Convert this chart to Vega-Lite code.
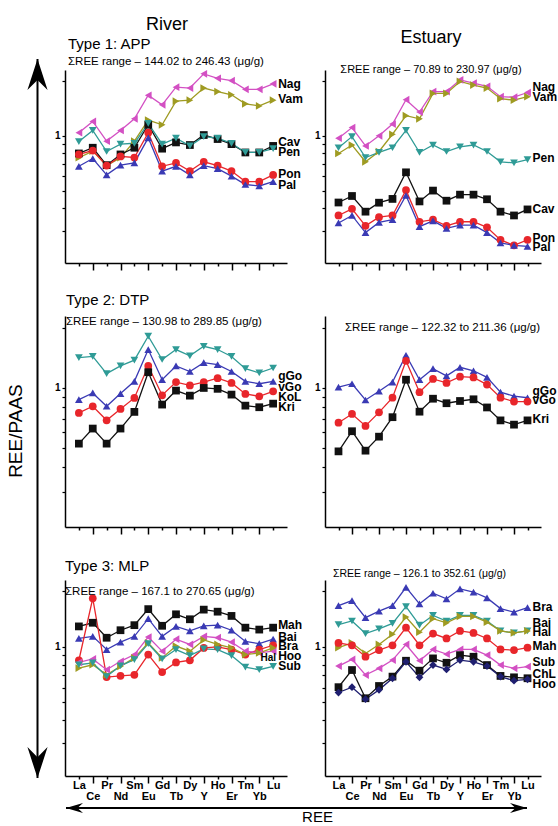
{
"$schema": "https://vega.github.io/schema/vega-lite/v6.json",
"padding": {"left": 7, "top": 16, "right": 0, "bottom": 0},
"background": "white",
"config": {
  "view": {"stroke": null},
  "font": "Liberation Sans",
  "title": {"font": "Liberation Sans", "fontWeight": "normal", "color": "black", "subtitleFont": "Liberation Sans", "subtitleColor": "black", "subtitleFontWeight": "normal"},
  "axis": {"domainColor": "black", "tickColor": "black", "grid": false, "labelColor": "black"},
  "text": {"font": "Liberation Sans", "color": "black"}
},
"title": {"text": "River", "fontSize": 18, "anchor": "start", "frame": "group", "dx": 81, "offset": -5},
"datasets": {
"r1": [
{"e":"La","s":"Nag","v":1.04},{"e":"Ce","s":"Nag","v":1.2},{"e":"Pr","s":"Nag","v":0.935},{"e":"Nd","s":"Nag","v":1.07},{"e":"Sm","s":"Nag","v":1.24},{"e":"Eu","s":"Nag","v":1.67},{"e":"Gd","s":"Nag","v":1.48},{"e":"Tb","s":"Nag","v":1.85},{"e":"Dy","s":"Nag","v":1.83},{"e":"Y","s":"Nag","v":2.19},{"e":"Ho","s":"Nag","v":2.07},{"e":"Er","s":"Nag","v":2.01},{"e":"Tm","s":"Nag","v":1.8},{"e":"Yb","s":"Nag","v":1.8},{"e":"Lu","s":"Nag","v":1.93},
{"e":"La","s":"Vam","v":0.758},{"e":"Ce","s":"Vam","v":0.824},{"e":"Pr","s":"Vam","v":0.686},{"e":"Nd","s":"Vam","v":0.758},{"e":"Sm","s":"Vam","v":0.935},{"e":"Eu","s":"Vam","v":1.22},{"e":"Gd","s":"Vam","v":1.15},{"e":"Tb","s":"Vam","v":1.55},{"e":"Dy","s":"Vam","v":1.57},{"e":"Y","s":"Vam","v":1.83},{"e":"Ho","s":"Vam","v":1.75},{"e":"Er","s":"Vam","v":1.68},{"e":"Tm","s":"Vam","v":1.5},{"e":"Yb","s":"Vam","v":1.46},{"e":"Lu","s":"Vam","v":1.57},
{"e":"La","s":"Cav","v":0.8},{"e":"Ce","s":"Cav","v":0.86},{"e":"Pr","s":"Cav","v":0.69},{"e":"Nd","s":"Cav","v":0.79},{"e":"Sm","s":"Cav","v":0.86},{"e":"Eu","s":"Cav","v":1.15},{"e":"Gd","s":"Cav","v":0.85},{"e":"Tb","s":"Cav","v":0.92},{"e":"Dy","s":"Cav","v":0.89},{"e":"Y","s":"Cav","v":1.01},{"e":"Ho","s":"Cav","v":0.96},{"e":"Er","s":"Cav","v":0.9},{"e":"Tm","s":"Cav","v":0.81},{"e":"Yb","s":"Cav","v":0.81},{"e":"Lu","s":"Cav","v":0.88},
{"e":"La","s":"Pen","v":0.93},{"e":"Ce","s":"Pen","v":1.07},{"e":"Pr","s":"Pen","v":0.82},{"e":"Nd","s":"Pen","v":0.9},{"e":"Sm","s":"Pen","v":0.91},{"e":"Eu","s":"Pen","v":1.17},{"e":"Gd","s":"Pen","v":0.9},{"e":"Tb","s":"Pen","v":0.97},{"e":"Dy","s":"Pen","v":0.88},{"e":"Y","s":"Pen","v":0.99},{"e":"Ho","s":"Pen","v":0.97},{"e":"Er","s":"Pen","v":0.91},{"e":"Tm","s":"Pen","v":0.81},{"e":"Yb","s":"Pen","v":0.81},{"e":"Lu","s":"Pen","v":0.85},
{"e":"La","s":"Pon","v":0.79},{"e":"Ce","s":"Pon","v":0.83},{"e":"Pr","s":"Pon","v":0.686},{"e":"Nd","s":"Pon","v":0.77},{"e":"Sm","s":"Pon","v":0.76},{"e":"Eu","s":"Pon","v":1.04},{"e":"Gd","s":"Pon","v":0.68},{"e":"Tb","s":"Pon","v":0.71},{"e":"Dy","s":"Pon","v":0.64},{"e":"Y","s":"Pon","v":0.72},{"e":"Ho","s":"Pon","v":0.686},{"e":"Er","s":"Pon","v":0.64},{"e":"Tm","s":"Pon","v":0.56},{"e":"Yb","s":"Pon","v":0.56},{"e":"Lu","s":"Pon","v":0.61},
{"e":"La","s":"Pal","v":0.68},{"e":"Ce","s":"Pal","v":0.75},{"e":"Pr","s":"Pal","v":0.61},{"e":"Nd","s":"Pal","v":0.69},{"e":"Sm","s":"Pal","v":0.71},{"e":"Eu","s":"Pal","v":0.975},{"e":"Gd","s":"Pal","v":0.64},{"e":"Tb","s":"Pal","v":0.68},{"e":"Dy","s":"Pal","v":0.61},{"e":"Y","s":"Pal","v":0.686},{"e":"Ho","s":"Pal","v":0.66},{"e":"Er","s":"Pal","v":0.6},{"e":"Tm","s":"Pal","v":0.54},{"e":"Yb","s":"Pal","v":0.53},{"e":"Lu","s":"Pal","v":0.56}
],
"r1L": [{"s":"Nag","v":1.93},{"s":"Vam","v":1.59},{"s":"Cav","v":0.92},{"s":"Pen","v":0.81},{"s":"Pon","v":0.615},{"s":"Pal","v":0.538}],
"e1": [
{"e":"La","s":"Nag","v":0.97},{"e":"Ce","s":"Nag","v":1.11},{"e":"Pr","s":"Nag","v":0.88},{"e":"Nd","s":"Nag","v":1.0},{"e":"Sm","s":"Nag","v":1.16},{"e":"Eu","s":"Nag","v":1.58},{"e":"Gd","s":"Nag","v":1.35},{"e":"Tb","s":"Nag","v":1.75},{"e":"Dy","s":"Nag","v":1.75},{"e":"Y","s":"Nag","v":2.03},{"e":"Ho","s":"Nag","v":1.95},{"e":"Er","s":"Nag","v":1.87},{"e":"Tm","s":"Nag","v":1.64},{"e":"Yb","s":"Nag","v":1.63},{"e":"Lu","s":"Nag","v":1.73},
{"e":"La","s":"Vam","v":0.8},{"e":"Ce","s":"Vam","v":0.89},{"e":"Pr","s":"Vam","v":0.72},{"e":"Nd","s":"Vam","v":0.82},{"e":"Sm","s":"Vam","v":1.02},{"e":"Eu","s":"Vam","v":1.29},{"e":"Gd","s":"Vam","v":1.24},{"e":"Tb","s":"Vam","v":1.71},{"e":"Dy","s":"Vam","v":1.71},{"e":"Y","s":"Vam","v":1.99},{"e":"Ho","s":"Vam","v":1.9},{"e":"Er","s":"Vam","v":1.83},{"e":"Tm","s":"Vam","v":1.6},{"e":"Yb","s":"Vam","v":1.57},{"e":"Lu","s":"Vam","v":1.64},
{"e":"La","s":"Pen","v":0.86},{"e":"Ce","s":"Pen","v":0.99},{"e":"Pr","s":"Pen","v":0.76},{"e":"Nd","s":"Pen","v":0.81},{"e":"Sm","s":"Pen","v":0.86},{"e":"Eu","s":"Pen","v":1.07},{"e":"Gd","s":"Pen","v":0.81},{"e":"Tb","s":"Pen","v":0.89},{"e":"Dy","s":"Pen","v":0.82},{"e":"Y","s":"Pen","v":0.87},{"e":"Ho","s":"Pen","v":0.89},{"e":"Er","s":"Pen","v":0.82},{"e":"Tm","s":"Pen","v":0.72},{"e":"Yb","s":"Pen","v":0.71},{"e":"Lu","s":"Pen","v":0.74},
{"e":"La","s":"Cav","v":0.43},{"e":"Ce","s":"Cav","v":0.467},{"e":"Pr","s":"Cav","v":0.383},{"e":"Nd","s":"Cav","v":0.429},{"e":"Sm","s":"Cav","v":0.45},{"e":"Eu","s":"Cav","v":0.63},{"e":"Gd","s":"Cav","v":0.436},{"e":"Tb","s":"Cav","v":0.5},{"e":"Dy","s":"Cav","v":0.44},{"e":"Y","s":"Cav","v":0.475},{"e":"Ho","s":"Cav","v":0.475},{"e":"Er","s":"Cav","v":0.448},{"e":"Tm","s":"Cav","v":0.383},{"e":"Yb","s":"Cav","v":0.365},{"e":"Lu","s":"Cav","v":0.394},
{"e":"La","s":"Pon","v":0.365},{"e":"Ce","s":"Pon","v":0.397},{"e":"Pr","s":"Pon","v":0.32},{"e":"Nd","s":"Pon","v":0.357},{"e":"Sm","s":"Pon","v":0.365},{"e":"Eu","s":"Pon","v":0.503},{"e":"Gd","s":"Pon","v":0.337},{"e":"Tb","s":"Pon","v":0.346},{"e":"Dy","s":"Pon","v":0.32},{"e":"Y","s":"Pon","v":0.337},{"e":"Ho","s":"Pon","v":0.337},{"e":"Er","s":"Pon","v":0.314},{"e":"Tm","s":"Pon","v":0.268},{"e":"Yb","s":"Pon","v":0.25},{"e":"Lu","s":"Pon","v":0.268},
{"e":"La","s":"Pal","v":0.332},{"e":"Ce","s":"Pal","v":0.365},{"e":"Pr","s":"Pal","v":0.294},{"e":"Nd","s":"Pal","v":0.334},{"e":"Sm","s":"Pal","v":0.346},{"e":"Eu","s":"Pal","v":0.47},{"e":"Gd","s":"Pal","v":0.317},{"e":"Tb","s":"Pal","v":0.341},{"e":"Dy","s":"Pal","v":0.31},{"e":"Y","s":"Pal","v":0.323},{"e":"Ho","s":"Pal","v":0.323},{"e":"Er","s":"Pal","v":0.294},{"e":"Tm","s":"Pal","v":0.258},{"e":"Yb","s":"Pal","v":0.25},{"e":"Lu","s":"Pal","v":0.247}
],
"e1L": [{"s":"Nag","v":1.85},{"s":"Vam","v":1.63},{"s":"Pen","v":0.757},{"s":"Cav","v":0.394},{"s":"Pon","v":0.274},{"s":"Pal","v":0.245}],
"r2": [
{"e":"La","s":"gGo","v":1.42},{"e":"Ce","s":"gGo","v":1.44},{"e":"Pr","s":"gGo","v":1.18},{"e":"Nd","s":"gGo","v":1.29},{"e":"Sm","s":"gGo","v":1.38},{"e":"Eu","s":"gGo","v":1.82},{"e":"Gd","s":"gGo","v":1.39},{"e":"Tb","s":"gGo","v":1.56},{"e":"Dy","s":"gGo","v":1.45},{"e":"Y","s":"gGo","v":1.62},{"e":"Ho","s":"gGo","v":1.56},{"e":"Er","s":"gGo","v":1.44},{"e":"Tm","s":"gGo","v":1.25},{"e":"Yb","s":"gGo","v":1.19},{"e":"Lu","s":"gGo","v":1.26},
{"e":"La","s":"vGo","v":0.874},{"e":"Ce","s":"vGo","v":0.944},{"e":"Pr","s":"vGo","v":0.809},{"e":"Nd","s":"vGo","v":0.937},{"e":"Sm","s":"vGo","v":1.08},{"e":"Eu","s":"vGo","v":1.56},{"e":"Gd","s":"vGo","v":1.1},{"e":"Tb","s":"vGo","v":1.29},{"e":"Dy","s":"vGo","v":1.21},{"e":"Y","s":"vGo","v":1.34},{"e":"Ho","s":"vGo","v":1.31},{"e":"Er","s":"vGo","v":1.21},{"e":"Tm","s":"vGo","v":1.08},{"e":"Yb","s":"vGo","v":1.05},{"e":"Lu","s":"vGo","v":1.08},
{"e":"La","s":"KoL","v":0.749},{"e":"Ce","s":"KoL","v":0.809},{"e":"Pr","s":"KoL","v":0.688},{"e":"Nd","s":"KoL","v":0.784},{"e":"Sm","s":"KoL","v":0.891},{"e":"Eu","s":"KoL","v":1.29},{"e":"Gd","s":"KoL","v":0.919},{"e":"Tb","s":"KoL","v":1.07},{"e":"Dy","s":"KoL","v":1.03},{"e":"Y","s":"KoL","v":1.07},{"e":"Ho","s":"KoL","v":1.12},{"e":"Er","s":"KoL","v":1.06},{"e":"Tm","s":"KoL","v":0.933},{"e":"Yb","s":"KoL","v":0.908},{"e":"Lu","s":"KoL","v":0.962},
{"e":"La","s":"Kri","v":0.525},{"e":"Ce","s":"Kri","v":0.625},{"e":"Pr","s":"Kri","v":0.525},{"e":"Nd","s":"Kri","v":0.625},{"e":"Sm","s":"Kri","v":0.758},{"e":"Eu","s":"Kri","v":1.2},{"e":"Gd","s":"Kri","v":0.825},{"e":"Tb","s":"Kri","v":0.97},{"e":"Dy","s":"Kri","v":0.915},{"e":"Y","s":"Kri","v":1.0},{"e":"Ho","s":"Kri","v":0.99},{"e":"Er","s":"Kri","v":0.926},{"e":"Tm","s":"Kri","v":0.815},{"e":"Yb","s":"Kri","v":0.8},{"e":"Lu","s":"Kri","v":0.834}
],
"r2L": [{"s":"gGo","v":1.149},{"s":"vGo","v":1.012},{"s":"KoL","v":0.901},{"s":"Kri","v":0.803}],
"e2": [
{"e":"La","s":"gGo","v":1.01},{"e":"Ce","s":"gGo","v":1.05},{"e":"Pr","s":"gGo","v":0.87},{"e":"Nd","s":"gGo","v":0.963},{"e":"Sm","s":"gGo","v":1.07},{"e":"Eu","s":"gGo","v":1.46},{"e":"Gd","s":"gGo","v":1.1},{"e":"Tb","s":"gGo","v":1.25},{"e":"Dy","s":"gGo","v":1.15},{"e":"Y","s":"gGo","v":1.27},{"e":"Ho","s":"gGo","v":1.22},{"e":"Er","s":"gGo","v":1.13},{"e":"Tm","s":"gGo","v":0.952},{"e":"Yb","s":"gGo","v":0.91},{"e":"Lu","s":"gGo","v":0.893},
{"e":"La","s":"vGo","v":0.669},{"e":"Ce","s":"vGo","v":0.74},{"e":"Pr","s":"vGo","v":0.644},{"e":"Nd","s":"vGo","v":0.754},{"e":"Sm","s":"vGo","v":0.893},{"e":"Eu","s":"vGo","v":1.37},{"e":"Gd","s":"vGo","v":0.952},{"e":"Tb","s":"vGo","v":1.11},{"e":"Dy","s":"vGo","v":1.06},{"e":"Y","s":"vGo","v":1.14},{"e":"Ho","s":"vGo","v":1.13},{"e":"Er","s":"vGo","v":1.04},{"e":"Tm","s":"vGo","v":0.893},{"e":"Yb","s":"vGo","v":0.854},{"e":"Lu","s":"vGo","v":0.854},
{"e":"La","s":"Kri","v":0.48},{"e":"Ce","s":"Kri","v":0.606},{"e":"Pr","s":"Kri","v":0.484},{"e":"Nd","s":"Kri","v":0.569},{"e":"Sm","s":"Kri","v":0.713},{"e":"Eu","s":"Kri","v":1.1},{"e":"Gd","s":"Kri","v":0.76},{"e":"Tb","s":"Kri","v":0.883},{"e":"Dy","s":"Kri","v":0.838},{"e":"Y","s":"Kri","v":0.86},{"e":"Ho","s":"Kri","v":0.877},{"e":"Er","s":"Kri","v":0.798},{"e":"Tm","s":"Kri","v":0.687},{"e":"Yb","s":"Kri","v":0.654},{"e":"Lu","s":"Kri","v":0.687}
],
"e2L": [{"s":"gGo","v":0.96},{"s":"vGo","v":0.872},{"s":"Kri","v":0.697}],
"r3": [
{"e":"La","s":"Mah","v":1.29},{"e":"Ce","s":"Mah","v":1.35},{"e":"Pr","s":"Mah","v":1.12},{"e":"Nd","s":"Mah","v":1.23},{"e":"Sm","s":"Mah","v":1.31},{"e":"Eu","s":"Mah","v":1.6},{"e":"Gd","s":"Mah","v":1.3},{"e":"Tb","s":"Mah","v":1.5},{"e":"Dy","s":"Mah","v":1.41},{"e":"Y","s":"Mah","v":1.59},{"e":"Ho","s":"Mah","v":1.55},{"e":"Er","s":"Mah","v":1.47},{"e":"Tm","s":"Mah","v":1.27},{"e":"Yb","s":"Mah","v":1.24},{"e":"Lu","s":"Mah","v":1.27},
{"e":"La","s":"Bai","v":1.11},{"e":"Ce","s":"Bai","v":1.14},{"e":"Pr","s":"Bai","v":0.967},{"e":"Nd","s":"Bai","v":1.06},{"e":"Sm","s":"Bai","v":1.14},{"e":"Eu","s":"Bai","v":1.42},{"e":"Gd","s":"Bai","v":1.14},{"e":"Tb","s":"Bai","v":1.29},{"e":"Dy","s":"Bai","v":1.22},{"e":"Y","s":"Bai","v":1.3},{"e":"Ho","s":"Bai","v":1.31},{"e":"Er","s":"Bai","v":1.23},{"e":"Tm","s":"Bai","v":1.07},{"e":"Yb","s":"Bai","v":1.04},{"e":"Lu","s":"Bai","v":1.1},
{"e":"La","s":"Bra","v":0.846},{"e":"Ce","s":"Bra","v":1.83},{"e":"Pr","s":"Bra","v":0.686},{"e":"Nd","s":"Bra","v":0.697},{"e":"Sm","s":"Bra","v":0.706},{"e":"Eu","s":"Bra","v":0.908},{"e":"Gd","s":"Bra","v":0.73},{"e":"Tb","s":"Bra","v":0.824},{"e":"Dy","s":"Bra","v":0.846},{"e":"Y","s":"Bra","v":0.987},{"e":"Ho","s":"Bra","v":1.0},{"e":"Er","s":"Bra","v":0.967},{"e":"Tm","s":"Bra","v":0.908},{"e":"Yb","s":"Bra","v":0.967},{"e":"Lu","s":"Bra","v":1.02},
{"e":"La","s":"Hoo","v":0.824},{"e":"Ce","s":"Hoo","v":0.86},{"e":"Pr","s":"Hoo","v":0.752},{"e":"Nd","s":"Hoo","v":0.835},{"e":"Sm","s":"Hoo","v":0.908},{"e":"Eu","s":"Hoo","v":1.13},{"e":"Gd","s":"Hoo","v":0.947},{"e":"Tb","s":"Hoo","v":1.1},{"e":"Dy","s":"Hoo","v":1.03},{"e":"Y","s":"Hoo","v":1.14},{"e":"Ho","s":"Hoo","v":1.12},{"e":"Er","s":"Hoo","v":1.06},{"e":"Tm","s":"Hoo","v":0.947},{"e":"Yb","s":"Hoo","v":0.927},{"e":"Lu","s":"Hoo","v":0.947},
{"e":"La","s":"Hal","v":0.768},{"e":"Ce","s":"Hal","v":0.8},{"e":"Pr","s":"Hal","v":0.706},{"e":"Nd","s":"Hal","v":0.784},{"e":"Sm","s":"Hal","v":0.871},{"e":"Eu","s":"Hal","v":1.05},{"e":"Gd","s":"Hal","v":0.871},{"e":"Tb","s":"Hal","v":1.01},{"e":"Dy","s":"Hal","v":0.947},{"e":"Y","s":"Hal","v":1.09},{"e":"Ho","s":"Hal","v":1.03},{"e":"Er","s":"Hal","v":0.987},{"e":"Tm","s":"Hal","v":0.908},{"e":"Yb","s":"Hal","v":0.927},{"e":"Lu","s":"Hal","v":0.987},
{"e":"La","s":"Sub","v":0.8},{"e":"Ce","s":"Sub","v":0.818},{"e":"Pr","s":"Sub","v":0.691},{"e":"Nd","s":"Sub","v":0.79},{"e":"Sm","s":"Sub","v":0.853},{"e":"Eu","s":"Sub","v":1.04},{"e":"Gd","s":"Sub","v":0.86},{"e":"Tb","s":"Sub","v":0.967},{"e":"Dy","s":"Sub","v":0.897},{"e":"Y","s":"Sub","v":0.975},{"e":"Ho","s":"Sub","v":0.967},{"e":"Er","s":"Sub","v":0.897},{"e":"Tm","s":"Sub","v":0.777},{"e":"Yb","s":"Sub","v":0.752},{"e":"Lu","s":"Sub","v":0.784}
],
"r3L": [{"s":"Mah","v":1.31},{"s":"Bai","v":1.134},{"s":"Bra","v":1.013},{"s":"Hoo","v":0.889},{"s":"Sub","v":0.79}],
"r3H": [{"s":"Hal","v":0.87}],
"e3": [
{"e":"La","s":"Bra","v":1.67},{"e":"Ce","s":"Bra","v":1.78},{"e":"Pr","s":"Bra","v":1.44},{"e":"Nd","s":"Bra","v":1.56},{"e":"Sm","s":"Bra","v":1.67},{"e":"Eu","s":"Bra","v":2.1},{"e":"Gd","s":"Bra","v":1.71},{"e":"Tb","s":"Bra","v":1.95},{"e":"Dy","s":"Bra","v":1.82},{"e":"Y","s":"Bra","v":2.06},{"e":"Ho","s":"Bra","v":1.98},{"e":"Er","s":"Bra","v":1.84},{"e":"Tm","s":"Bra","v":1.61},{"e":"Yb","s":"Bra","v":1.54},{"e":"Lu","s":"Bra","v":1.63},
{"e":"La","s":"Bai","v":1.32},{"e":"Ce","s":"Bai","v":1.38},{"e":"Pr","s":"Bai","v":1.18},{"e":"Nd","s":"Bai","v":1.25},{"e":"Sm","s":"Bai","v":1.34},{"e":"Eu","s":"Bai","v":1.65},{"e":"Gd","s":"Bai","v":1.31},{"e":"Tb","s":"Bai","v":1.48},{"e":"Dy","s":"Bai","v":1.38},{"e":"Y","s":"Bai","v":1.48},{"e":"Ho","s":"Bai","v":1.48},{"e":"Er","s":"Bai","v":1.38},{"e":"Tm","s":"Bai","v":1.22},{"e":"Yb","s":"Bai","v":1.19},{"e":"Lu","s":"Bai","v":1.22},
{"e":"La","s":"Hal","v":0.99},{"e":"Ce","s":"Hal","v":1.05},{"e":"Pr","s":"Hal","v":0.921},{"e":"Nd","s":"Hal","v":1.03},{"e":"Sm","s":"Hal","v":1.17},{"e":"Eu","s":"Hal","v":1.45},{"e":"Gd","s":"Hal","v":1.2},{"e":"Tb","s":"Hal","v":1.42},{"e":"Dy","s":"Hal","v":1.35},{"e":"Y","s":"Hal","v":1.46},{"e":"Ho","s":"Hal","v":1.46},{"e":"Er","s":"Hal","v":1.36},{"e":"Tm","s":"Hal","v":1.22},{"e":"Yb","s":"Hal","v":1.19},{"e":"Lu","s":"Hal","v":1.22},
{"e":"La","s":"Mah","v":1.05},{"e":"Ce","s":"Mah","v":1.02},{"e":"Pr","s":"Mah","v":0.884},{"e":"Nd","s":"Mah","v":0.96},{"e":"Sm","s":"Mah","v":1.02},{"e":"Eu","s":"Mah","v":1.27},{"e":"Gd","s":"Mah","v":1.02},{"e":"Tb","s":"Mah","v":1.18},{"e":"Dy","s":"Mah","v":1.11},{"e":"Y","s":"Mah","v":1.22},{"e":"Ho","s":"Mah","v":1.19},{"e":"Er","s":"Mah","v":1.11},{"e":"Tm","s":"Mah","v":0.968},{"e":"Yb","s":"Mah","v":0.96},{"e":"Lu","s":"Mah","v":0.99},
{"e":"La","s":"Sub","v":0.787},{"e":"Ce","s":"Sub","v":0.855},{"e":"Pr","s":"Sub","v":0.704},{"e":"Nd","s":"Sub","v":0.765},{"e":"Sm","s":"Sub","v":0.848},{"e":"Eu","s":"Sub","v":1.03},{"e":"Gd","s":"Sub","v":0.841},{"e":"Tb","s":"Sub","v":0.968},{"e":"Dy","s":"Sub","v":0.913},{"e":"Y","s":"Sub","v":0.968},{"e":"Ho","s":"Sub","v":0.968},{"e":"Er","s":"Sub","v":0.902},{"e":"Tm","s":"Sub","v":0.797},{"e":"Yb","s":"Sub","v":0.765},{"e":"Lu","s":"Sub","v":0.781},
{"e":"La","s":"ChL","v":0.605},{"e":"Ce","s":"ChL","v":0.749},{"e":"Pr","s":"ChL","v":0.527},{"e":"Nd","s":"ChL","v":0.614},{"e":"Sm","s":"ChL","v":0.69},{"e":"Eu","s":"ChL","v":0.841},{"e":"Gd","s":"ChL","v":0.743},{"e":"Tb","s":"ChL","v":0.866},{"e":"Dy","s":"ChL","v":0.82},{"e":"Y","s":"ChL","v":0.902},{"e":"Ho","s":"ChL","v":0.884},{"e":"Er","s":"ChL","v":0.797},{"e":"Tm","s":"ChL","v":0.696},{"e":"Yb","s":"ChL","v":0.684},{"e":"Lu","s":"ChL","v":0.676},
{"e":"La","s":"Hoo","v":0.566},{"e":"Ce","s":"Hoo","v":0.605},{"e":"Pr","s":"Hoo","v":0.521},{"e":"Nd","s":"Hoo","v":0.585},{"e":"Sm","s":"Hoo","v":0.676},{"e":"Eu","s":"Hoo","v":0.83},{"e":"Gd","s":"Hoo","v":0.684},{"e":"Tb","s":"Hoo","v":0.797},{"e":"Dy","s":"Hoo","v":0.755},{"e":"Y","s":"Hoo","v":0.848},{"e":"Ho","s":"Hoo","v":0.83},{"e":"Er","s":"Hoo","v":0.787},{"e":"Tm","s":"Hoo","v":0.69},{"e":"Yb","s":"Hoo","v":0.656},{"e":"Lu","s":"Hoo","v":0.667}
],
"e3L": [{"s":"Bra","v":1.65},{"s":"Bai","v":1.35},{"s":"Hal","v":1.2},{"s":"Mah","v":1.01},{"s":"Sub","v":0.83},{"s":"ChL","v":0.713},{"s":"Hoo","v":0.63}]
},
"columns": 2,
"spacing": {"row": 53, "column": 38},
"bounds": "flush",
"align": "each",
"resolve": {"scale": {"x": "independent", "y": "independent", "color": "independent", "shape": "independent"}},
"concat": [
{
  "width": 222, "height": 193,
  "title": {"text": "Type 1: APP", "subtitle": "ΣREE range – 144.02 to 246.43 (μg/g)", "anchor": "start", "frame": "group", "dx": 3, "offset": -10, "subtitlePadding": 4, "fontSize": 15, "subtitleFontSize": 11.5},
  "resolve": {"scale": {"x": "independent", "y": "independent"}},
  "layer": [
    {
      "data": {"name": "r1"},
      "layer": [
        {"mark": {"type": "line", "strokeWidth": 1.3},
         "encoding": {
           "x": {"field": "e", "type": "ordinal", "sort": ["La","Ce","Pr","Nd","Sm","Eu","Gd","Tb","Dy","Y","Ho","Er","Tm","Yb","Lu"], "scale": {"type": "point", "padding": 1},
                 "axis": {"title": null, "labels": false, "tickSize": {"condition": {"test": "indexof(['Ce','Nd','Eu','Tb','Y','Er','Yb'], datum.value) >= 0", "value": 7}, "value": 3}, "tickWidth": 1.5, "domainWidth": 1.5}},
           "y": {"field": "v", "type": "quantitative", "scale": {"type": "log", "domain": [0.2, 2.3], "nice": false},
                 "axis": {"title": null, "values": [0.3,0.4,0.5,0.6,0.7,0.8,0.9,1,2], "labelExpr": "datum.value == 1 ? '1' : ''", "tickSize": 3, "tickWidth": 1.2, "domainWidth": 1.5, "labelFontWeight": "bold", "labelFontSize": 10, "labelPadding": 2}},
           "color": {"field": "s", "type": "nominal", "legend": null, "scale": {"domain": ["Nag","Vam","Cav","Pen","Pon","Pal"], "range": ["#d350c3","#9f9b22","#111111","#2f9b96","#e8262b","#3a3ab4"]}}
         }},
        {"mark": {"type": "point", "filled": true, "opacity": 1, "size": 60},
         "encoding": {
           "x": {"field": "e", "type": "ordinal", "sort": ["La","Ce","Pr","Nd","Sm","Eu","Gd","Tb","Dy","Y","Ho","Er","Tm","Yb","Lu"]},
           "y": {"field": "v", "type": "quantitative"},
           "color": {"field": "s", "type": "nominal", "legend": null, "scale": {"domain": ["Nag","Vam","Cav","Pen","Pon","Pal"], "range": ["#d350c3","#9f9b22","#111111","#2f9b96","#e8262b","#3a3ab4"]}},
           "shape": {"field": "s", "type": "nominal", "legend": null, "scale": {"domain": ["Nag","Vam","Cav","Pen","Pon","Pal"], "range": ["triangle-left","triangle-right","square","triangle-down","circle","triangle-up"]}}
         }},
        {"data": {"name": "r1L"}, "mark": {"type": "text", "align": "left", "dx": 5, "fontWeight": "bold", "fontSize": 12},
         "encoding": {"x": {"datum": "Lu", "type": "ordinal"}, "y": {"field": "v", "type": "quantitative"}, "text": {"field": "s"}}}
      ]
    },
    {
      "layer": [
        {"data": {"values": [{"a": 1, "y1": 0, "y2": 1}]}, "mark": {"type": "rule", "strokeWidth": 2, "color": "black"},
         "encoding": {"x": {"field": "a", "type": "quantitative", "scale": {"domain": [2.279, 12.605], "nice": false, "zero": false}, "axis": null},
                      "y": {"field": "y1", "type": "quantitative", "scale": {"domain": [0.7163, 0.9847], "nice": false, "zero": false}, "axis": null},
                      "y2": {"field": "y2"}}},
        {"data": {"values": [{"a": 1, "y1": 1}]}, "mark": {"type": "point", "shape": "M0,0L0.65,2L0,1.35L-0.65,2Z", "filled": true, "size": 961, "color": "black", "opacity": 1},
         "encoding": {"x": {"field": "a", "type": "quantitative"}, "y": {"field": "y1", "type": "quantitative"}}},
        {"data": {"values": [{"a": 1, "y1": 0}]}, "mark": {"type": "point", "shape": "M0,0L0.65,-2L0,-1.35L-0.65,-2Z", "filled": true, "size": 961, "color": "black", "opacity": 1},
         "encoding": {"x": {"field": "a", "type": "quantitative"}, "y": {"field": "y1", "type": "quantitative"}}},
        {"data": {"values": [{"a": 0, "y1": 0.4826, "t": "REE/PAAS"}]}, "mark": {"type": "text", "angle": 270, "fontSize": 19, "font": "Liberation Sans", "align": "center", "baseline": "middle", "color": "black"},
         "encoding": {"x": {"field": "a", "type": "quantitative"}, "y": {"field": "y1", "type": "quantitative"}, "text": {"field": "t"}}}
      ]
    }
  ]
},
{
  "width": 216, "height": 193,
  "title": {"text": "Estuary", "subtitle": "ΣREE range – 70.89 to 230.97 (μg/g)", "anchor": "middle", "frame": "group", "dx": -2, "offset": -5, "subtitlePadding": 17, "fontSize": 18, "subtitleFontSize": 11},
  "data": {"name": "e1"},
  "layer": [
    {"mark": {"type": "line", "strokeWidth": 1.3},
     "encoding": {
       "x": {"field": "e", "type": "ordinal", "sort": ["La","Ce","Pr","Nd","Sm","Eu","Gd","Tb","Dy","Y","Ho","Er","Tm","Yb","Lu"], "scale": {"type": "point", "padding": 1.05},
             "axis": {"title": null, "labels": false, "tickSize": {"condition": {"test": "indexof(['Ce','Nd','Eu','Tb','Y','Er','Yb'], datum.value) >= 0", "value": 7}, "value": 3}, "tickWidth": 1.5, "domainWidth": 1.5}},
       "y": {"field": "v", "type": "quantitative", "scale": {"type": "log", "domain": [0.2, 2.3], "nice": false},
             "axis": {"title": null, "values": [0.3,0.4,0.5,0.6,0.7,0.8,0.9,1,2], "labelExpr": "datum.value == 1 ? '1' : ''", "tickSize": 3, "tickWidth": 1.2, "domainWidth": 1.5, "labelFontWeight": "bold", "labelFontSize": 10, "labelPadding": 2}},
       "color": {"field": "s", "type": "nominal", "legend": null, "scale": {"domain": ["Nag","Vam","Cav","Pen","Pon","Pal"], "range": ["#d350c3","#9f9b22","#111111","#2f9b96","#e8262b","#3a3ab4"]}}
     }},
    {"mark": {"type": "point", "filled": true, "opacity": 1, "size": 60},
     "encoding": {
       "x": {"field": "e", "type": "ordinal", "sort": ["La","Ce","Pr","Nd","Sm","Eu","Gd","Tb","Dy","Y","Ho","Er","Tm","Yb","Lu"]},
       "y": {"field": "v", "type": "quantitative"},
       "color": {"field": "s", "type": "nominal", "legend": null, "scale": {"domain": ["Nag","Vam","Cav","Pen","Pon","Pal"], "range": ["#d350c3","#9f9b22","#111111","#2f9b96","#e8262b","#3a3ab4"]}},
       "shape": {"field": "s", "type": "nominal", "legend": null, "scale": {"domain": ["Nag","Vam","Cav","Pen","Pon","Pal"], "range": ["triangle-left","triangle-right","square","triangle-down","circle","triangle-up"]}}
     }},
    {"data": {"name": "e1L"}, "mark": {"type": "text", "align": "left", "dx": 5, "fontWeight": "bold", "fontSize": 12},
     "encoding": {"x": {"datum": "Lu", "type": "ordinal"}, "y": {"field": "v", "type": "quantitative"}, "text": {"field": "s"}}}
  ]
},
{
  "width": 222, "height": 211,
  "title": {"text": "Type 2: DTP", "subtitle": "ΣREE range – 130.98 to 289.85 (μg/g)", "anchor": "start", "frame": "group", "dx": 1, "offset": -11, "subtitlePadding": 8, "fontSize": 15, "subtitleFontSize": 11.5},
  "data": {"name": "r2"},
  "layer": [
    {"mark": {"type": "line", "strokeWidth": 1.3},
     "encoding": {
       "x": {"field": "e", "type": "ordinal", "sort": ["La","Ce","Pr","Nd","Sm","Eu","Gd","Tb","Dy","Y","Ho","Er","Tm","Yb","Lu"], "scale": {"type": "point", "padding": 1},
             "axis": {"title": null, "labels": false, "tickSize": {"condition": {"test": "indexof(['Ce','Nd','Eu','Tb','Y','Er','Yb'], datum.value) >= 0", "value": 7}, "value": 3}, "tickWidth": 1.5, "domainWidth": 1.5}},
       "y": {"field": "v", "type": "quantitative", "scale": {"type": "log", "domain": [0.2, 2.3], "nice": false},
             "axis": {"title": null, "values": [0.3,0.4,0.5,0.6,0.7,0.8,0.9,1,2], "labelExpr": "datum.value == 1 ? '1' : ''", "tickSize": 3, "tickWidth": 1.2, "domainWidth": 1.5, "labelFontWeight": "bold", "labelFontSize": 10, "labelPadding": 2}},
       "color": {"field": "s", "type": "nominal", "legend": null, "scale": {"domain": ["gGo","vGo","KoL","Kri"], "range": ["#2f9b96","#3a3ab4","#e8262b","#111111"]}}
     }},
    {"mark": {"type": "point", "filled": true, "opacity": 1, "size": 60},
     "encoding": {
       "x": {"field": "e", "type": "ordinal", "sort": ["La","Ce","Pr","Nd","Sm","Eu","Gd","Tb","Dy","Y","Ho","Er","Tm","Yb","Lu"]},
       "y": {"field": "v", "type": "quantitative"},
       "color": {"field": "s", "type": "nominal", "legend": null, "scale": {"domain": ["gGo","vGo","KoL","Kri"], "range": ["#2f9b96","#3a3ab4","#e8262b","#111111"]}},
       "shape": {"field": "s", "type": "nominal", "legend": null, "scale": {"domain": ["gGo","vGo","KoL","Kri"], "range": ["triangle-down","triangle-up","circle","square"]}}
     }},
    {"data": {"name": "r2L"}, "mark": {"type": "text", "align": "left", "dx": 5, "fontWeight": "bold", "fontSize": 12},
     "encoding": {"x": {"datum": "Lu", "type": "ordinal"}, "y": {"field": "v", "type": "quantitative"}, "text": {"field": "s"}}}
  ]
},
{
  "width": 216, "height": 211,
  "title": {"text": "ΣREE range – 122.32 to 211.36 (μg/g)", "anchor": "start", "frame": "group", "dx": 20, "offset": -17, "fontSize": 11.5},
  "data": {"name": "e2"},
  "layer": [
    {"mark": {"type": "line", "strokeWidth": 1.3},
     "encoding": {
       "x": {"field": "e", "type": "ordinal", "sort": ["La","Ce","Pr","Nd","Sm","Eu","Gd","Tb","Dy","Y","Ho","Er","Tm","Yb","Lu"], "scale": {"type": "point", "padding": 1.05},
             "axis": {"title": null, "labels": false, "tickSize": {"condition": {"test": "indexof(['Ce','Nd','Eu','Tb','Y','Er','Yb'], datum.value) >= 0", "value": 7}, "value": 3}, "tickWidth": 1.5, "domainWidth": 1.5}},
       "y": {"field": "v", "type": "quantitative", "scale": {"type": "log", "domain": [0.2, 2.3], "nice": false},
             "axis": {"title": null, "values": [0.3,0.4,0.5,0.6,0.7,0.8,0.9,1,2], "labelExpr": "datum.value == 1 ? '1' : ''", "tickSize": 3, "tickWidth": 1.2, "domainWidth": 1.5, "labelFontWeight": "bold", "labelFontSize": 10, "labelPadding": 2}},
       "color": {"field": "s", "type": "nominal", "legend": null, "scale": {"domain": ["gGo","vGo","Kri"], "range": ["#3a3ab4","#e8262b","#111111"]}}
     }},
    {"mark": {"type": "point", "filled": true, "opacity": 1, "size": 60},
     "encoding": {
       "x": {"field": "e", "type": "ordinal", "sort": ["La","Ce","Pr","Nd","Sm","Eu","Gd","Tb","Dy","Y","Ho","Er","Tm","Yb","Lu"]},
       "y": {"field": "v", "type": "quantitative"},
       "color": {"field": "s", "type": "nominal", "legend": null, "scale": {"domain": ["gGo","vGo","Kri"], "range": ["#3a3ab4","#e8262b","#111111"]}},
       "shape": {"field": "s", "type": "nominal", "legend": null, "scale": {"domain": ["gGo","vGo","Kri"], "range": ["triangle-up","circle","square"]}}
     }},
    {"data": {"name": "e2L"}, "mark": {"type": "text", "align": "left", "dx": 5, "fontWeight": "bold", "fontSize": 12},
     "encoding": {"x": {"datum": "Lu", "type": "ordinal"}, "y": {"field": "v", "type": "quantitative"}, "text": {"field": "s"}}}
  ]
},
{
  "width": 222, "height": 196,
  "title": {"text": "Type 3: MLP", "subtitle": "ΣREE range – 167.1 to 270.65 (μg/g)", "anchor": "start", "frame": "group", "dx": 0, "offset": -17, "subtitlePadding": 12, "fontSize": 15, "subtitleFontSize": 11.5},
  "resolve": {"scale": {"x": "independent", "y": "independent"}},
  "layer": [
    {
      "data": {"name": "r3"},
      "layer": [
        {"mark": {"type": "line", "strokeWidth": 1.3},
         "encoding": {
           "x": {"field": "e", "type": "ordinal", "sort": ["La","Ce","Pr","Nd","Sm","Eu","Gd","Tb","Dy","Y","Ho","Er","Tm","Yb","Lu"], "scale": {"type": "point", "padding": 1},
                 "axis": {"title": null, "labelAngle": 0, "labelOverlap": false, "labelFont": "Liberation Sans", "labelFontWeight": "bold", "labelFontSize": 11, "labelBaseline": "top", "labelLineHeight": 7, "labelPadding": 0,
                          "labelExpr": "indexof(['Ce','Nd','Eu','Tb','Y','Er','Yb'], datum.value) >= 0 ? ['', datum.value] : datum.value",
                          "tickSize": {"condition": {"test": "indexof(['Ce','Nd','Eu','Tb','Y','Er','Yb'], datum.value) >= 0", "value": 7}, "value": 3}, "tickWidth": 1.5, "domainWidth": 1.5}},
           "y": {"field": "v", "type": "quantitative", "scale": {"type": "log", "domain": [0.2, 2.3], "nice": false},
                 "axis": {"title": null, "values": [0.3,0.4,0.5,0.6,0.7,0.8,0.9,1,2], "labelExpr": "datum.value == 1 ? '1' : ''", "tickSize": 3, "tickWidth": 1.2, "domainWidth": 1.5, "labelFontWeight": "bold", "labelFontSize": 10, "labelPadding": 2}},
           "color": {"field": "s", "type": "nominal", "legend": null, "scale": {"domain": ["Mah","Bai","Bra","Hoo","Hal","Sub"], "range": ["#111111","#3a3ab4","#e8262b","#d350c3","#9f9b22","#2f9b96"]}}
         }},
        {"mark": {"type": "point", "filled": true, "opacity": 1, "size": 60},
         "encoding": {
           "x": {"field": "e", "type": "ordinal", "sort": ["La","Ce","Pr","Nd","Sm","Eu","Gd","Tb","Dy","Y","Ho","Er","Tm","Yb","Lu"]},
           "y": {"field": "v", "type": "quantitative"},
           "color": {"field": "s", "type": "nominal", "legend": null, "scale": {"domain": ["Mah","Bai","Bra","Hoo","Hal","Sub"], "range": ["#111111","#3a3ab4","#e8262b","#d350c3","#9f9b22","#2f9b96"]}},
           "shape": {"field": "s", "type": "nominal", "legend": null, "scale": {"domain": ["Mah","Bai","Bra","Hoo","Hal","Sub"], "range": ["square","triangle-up","circle","triangle-left","triangle-right","triangle-down"]}}
         }},
        {"data": {"name": "r3L"}, "mark": {"type": "text", "align": "left", "dx": 5, "fontWeight": "bold", "fontSize": 12},
         "encoding": {"x": {"datum": "Lu", "type": "ordinal"}, "y": {"field": "v", "type": "quantitative"}, "text": {"field": "s"}}},
        {"data": {"name": "r3H"}, "mark": {"type": "text", "align": "right", "dx": 3, "fontWeight": "bold", "fontSize": 10},
         "encoding": {"x": {"datum": "Lu", "type": "ordinal"}, "y": {"field": "v", "type": "quantitative"}, "text": {"field": "s"}}}
      ]
    },
    {
      "layer": [
        {"data": {"values": [{"x1": 0, "x2": 1, "y": 0}]}, "mark": {"type": "rule", "strokeWidth": 2, "color": "black"},
         "encoding": {"x": {"field": "x1", "type": "quantitative", "scale": {"domain": [-0.00217, 0.4794], "nice": false, "zero": false}, "axis": null},
                      "x2": {"field": "x2"},
                      "y": {"field": "y", "type": "quantitative", "scale": {"domain": [2.461, 17.538], "nice": false, "zero": false}, "axis": null}}},
        {"data": {"values": [{"x1": 0, "y": 0}]}, "mark": {"type": "point", "shape": "M0,0L2,-0.6L1.35,0L2,0.6Z", "filled": true, "size": 289, "color": "black", "opacity": 1},
         "encoding": {"x": {"field": "x1", "type": "quantitative"}, "y": {"field": "y", "type": "quantitative"}}},
        {"data": {"values": [{"x1": 1, "y": 0}]}, "mark": {"type": "point", "shape": "M0,0L-2,-0.6L-1.35,0L-2,0.6Z", "filled": true, "size": 289, "color": "black", "opacity": 1},
         "encoding": {"x": {"field": "x1", "type": "quantitative"}, "y": {"field": "y", "type": "quantitative"}}},
        {"data": {"values": [{"x1": 0.5456, "y": -0.7, "t": "REE"}]}, "mark": {"type": "text", "fontSize": 15, "font": "Liberation Sans", "align": "center", "baseline": "middle", "color": "black"},
         "encoding": {"x": {"field": "x1", "type": "quantitative"}, "y": {"field": "y", "type": "quantitative"}, "text": {"field": "t"}}}
      ]
    }
  ]
},
{
  "width": 216, "height": 196,
  "title": {"text": "ΣREE range – 126.1 to 352.61 (μg/g)", "anchor": "start", "frame": "group", "dx": 8, "offset": 1, "fontSize": 10.5},
  "data": {"name": "e3"},
  "layer": [
    {"mark": {"type": "line", "strokeWidth": 1.3},
     "encoding": {
       "x": {"field": "e", "type": "ordinal", "sort": ["La","Ce","Pr","Nd","Sm","Eu","Gd","Tb","Dy","Y","Ho","Er","Tm","Yb","Lu"], "scale": {"type": "point", "padding": 1.05},
             "axis": {"title": null, "labelAngle": 0, "labelOverlap": false, "labelFont": "Liberation Sans", "labelFontWeight": "bold", "labelFontSize": 11, "labelBaseline": "top", "labelLineHeight": 7, "labelPadding": 0,
                      "labelExpr": "indexof(['Ce','Nd','Eu','Tb','Y','Er','Yb'], datum.value) >= 0 ? ['', datum.value] : datum.value",
                      "tickSize": {"condition": {"test": "indexof(['Ce','Nd','Eu','Tb','Y','Er','Yb'], datum.value) >= 0", "value": 7}, "value": 3}, "tickWidth": 1.5, "domainWidth": 1.5}},
       "y": {"field": "v", "type": "quantitative", "scale": {"type": "log", "domain": [0.2, 2.3], "nice": false},
             "axis": {"title": null, "values": [0.3,0.4,0.5,0.6,0.7,0.8,0.9,1,2], "labelExpr": "datum.value == 1 ? '1' : ''", "tickSize": 3, "tickWidth": 1.2, "domainWidth": 1.5, "labelFontWeight": "bold", "labelFontSize": 10, "labelPadding": 2}},
       "color": {"field": "s", "type": "nominal", "legend": null, "scale": {"domain": ["Bra","Bai","Hal","Mah","Sub","ChL","Hoo"], "range": ["#3a3ab4","#2f9b96","#9f9b22","#e8262b","#d350c3","#111111","#1f1f70"]}}
     }},
    {"mark": {"type": "point", "filled": true, "opacity": 1, "size": 60},
     "encoding": {
       "x": {"field": "e", "type": "ordinal", "sort": ["La","Ce","Pr","Nd","Sm","Eu","Gd","Tb","Dy","Y","Ho","Er","Tm","Yb","Lu"]},
       "y": {"field": "v", "type": "quantitative"},
       "color": {"field": "s", "type": "nominal", "legend": null, "scale": {"domain": ["Bra","Bai","Hal","Mah","Sub","ChL","Hoo"], "range": ["#3a3ab4","#2f9b96","#9f9b22","#e8262b","#d350c3","#111111","#1f1f70"]}},
       "shape": {"field": "s", "type": "nominal", "legend": null, "scale": {"domain": ["Bra","Bai","Hal","Mah","Sub","ChL","Hoo"], "range": ["triangle-up","triangle-down","triangle-right","circle","triangle-left","square","diamond"]}}
     }},
    {"data": {"name": "e3L"}, "mark": {"type": "text", "align": "left", "dx": 5, "fontWeight": "bold", "fontSize": 12},
     "encoding": {"x": {"datum": "Lu", "type": "ordinal"}, "y": {"field": "v", "type": "quantitative"}, "text": {"field": "s"}}}
  ]
}
]
}
